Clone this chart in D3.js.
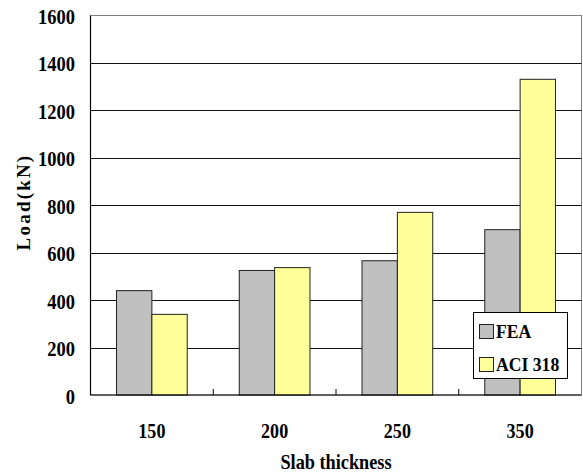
<!DOCTYPE html>
<html>
<head>
<meta charset="utf-8">
<script src="https://cdn.jsdelivr.net/npm/d3@7"></script>
<style>
  html, body { margin: 0; padding: 0; background: #fff; }
  svg { display: block; }
  text { font-family: "Liberation Serif", "Times New Roman", serif; font-weight: bold; fill: #000; }
</style>
</head>
<body>
<svg id="chart" width="583" height="474"></svg>
<script>
const categories = ["150", "200", "250", "350"];
const seriesNames = ["FEA", "ACI 318"];
const feaValues = [440, 525, 566, 697];
const aciValues = [340, 537, 770, 1331];
const yTicks = [0, 200, 400, 600, 800, 1000, 1200, 1400, 1600];
const seriesColors = ["#C0C0C0", "#FFFF99"];

(function () {
const svg = d3.select("#chart");
const pLeft = 90.5, pRight = 581.5, pTop = 15.5, pBottom = 395;

const x = d3.scaleBand().domain(categories).range([pLeft, pRight]).padding(0);
const step = x.bandwidth();
const xInner = d3.scaleBand().domain(seriesNames).range([step * 0.212, step * 0.788]).padding(0);
const y = d3.scaleLinear().domain([0, 1600]).range([pBottom, pTop]);

function label(g, tx, ty, str, size, sx, anchor) {
  return g.append("text")
    .attr("transform", `translate(${tx},${ty}) scale(${sx},1)`)
    .attr("text-anchor", anchor)
    .style("font-size", size + "px")
    .text(str);
}

// plot border (gray)
svg.append("rect")
  .attr("x", pLeft).attr("y", pTop)
  .attr("width", pRight - pLeft).attr("height", pBottom - pTop)
  .attr("fill", "#fff").attr("stroke", "#808080").attr("stroke-width", 1);

// gridlines
svg.append("g").selectAll("line")
  .data(yTicks.filter(d => d > 0 && d < 1600))
  .join("line")
  .attr("x1", pLeft).attr("x2", pRight)
  .attr("y1", d => Math.round(y(d)) + 0.5).attr("y2", d => Math.round(y(d)) + 0.5)
  .attr("stroke", "#111").attr("stroke-width", 1);

// bars
const data = categories.map((c, i) => ({ cat: c, vals: [feaValues[i], aciValues[i]] }));
const groups = svg.append("g").selectAll("g")
  .data(data).join("g")
  .attr("transform", d => `translate(${x(d.cat)},0)`);
groups.selectAll("rect")
  .data(d => d.vals.map((v, j) => ({ name: seriesNames[j], v, j })))
  .join("rect")
  .attr("x", d => xInner(d.name))
  .attr("y", d => y(d.v))
  .attr("width", xInner.bandwidth())
  .attr("height", d => pBottom - y(d.v))
  .attr("fill", d => seriesColors[d.j])
  .attr("stroke", "#222").attr("stroke-width", 1);

// axes lines
svg.append("line").attr("x1", pLeft).attr("x2", pLeft).attr("y1", pTop).attr("y2", pBottom)
  .attr("stroke", "#000").attr("stroke-width", 1.2);
svg.append("line").attr("x1", pLeft).attr("x2", pRight).attr("y1", pBottom).attr("y2", pBottom)
  .attr("stroke", "#000").attr("stroke-width", 1.2);

// x tick marks between categories (inside)
svg.append("g").selectAll("line")
  .data(categories.slice(1))
  .join("line")
  .attr("x1", d => x(d)).attr("x2", d => x(d))
  .attr("y1", pBottom).attr("y2", pBottom - 6)
  .attr("stroke", "#000").attr("stroke-width", 1);

// y tick labels
const yl = svg.append("g");
yTicks.forEach(t => label(yl, 75, y(t) + 8.5, String(t), 21, 0.88, "end"));

// x tick labels
const xl = svg.append("g");
categories.forEach(c => label(xl, x(c) + step / 2, 437.5, c, 21, 0.86, "middle"));

// axis titles
label(svg, 336, 468.5, "Slab thickness", 21, 0.87, "middle");
svg.append("text")
  .attr("transform", "translate(30,202) rotate(-90)")
  .attr("text-anchor", "middle")
  .style("font-size", "19px")
  .style("letter-spacing", "2.2px")
  .text("Load(kN)");

// legend
const lg = svg.append("g");
lg.append("rect").attr("x", 473.5).attr("y", 312.5).attr("width", 94).attr("height", 66)
  .attr("fill", "#fff").attr("stroke", "#000").attr("stroke-width", 1);
const legendY = [324.5, 357.5];
seriesNames.forEach((n, i) => {
  lg.append("rect").attr("x", 479.5).attr("y", legendY[i]).attr("width", 14).attr("height", 14)
    .attr("fill", seriesColors[i]).attr("stroke", "#222").attr("stroke-width", 1);
  label(lg, 496, legendY[i] + 13, n, 19, 0.93, "start");
});
})();
</script>
</body>
</html>
